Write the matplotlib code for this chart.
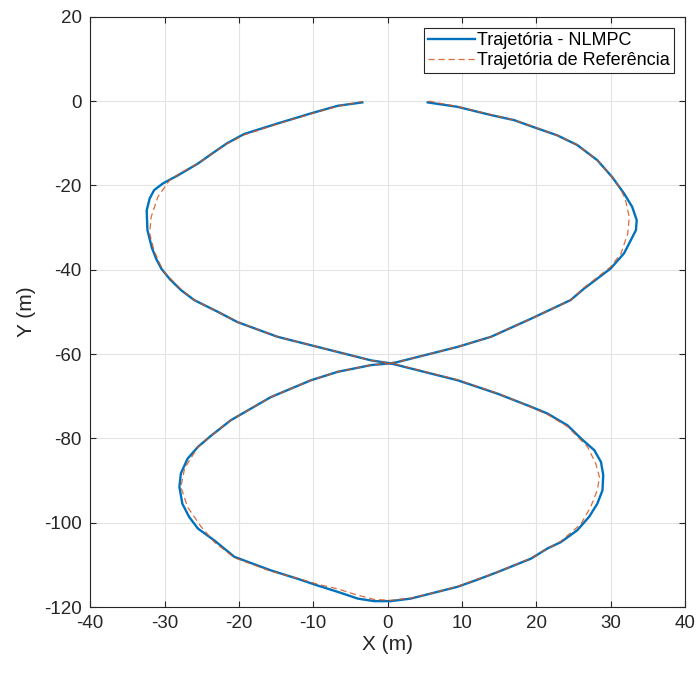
import numpy as np
import matplotlib.pyplot as plt

plt.rcParams["font.family"] = ["Liberation Sans", "DejaVu Sans"]
plt.rcParams["axes.unicode_minus"] = False

# NLMPC trajectory (x, y) in metres
nlmpc_xy = [
    (5.4, -0.3), (9.4, -1.35), (13.9, -3.3), (17.0, -4.5), (19.7, -6.2), (22.8, -8.1),
    (25.5, -10.4), (28.2, -14.0), (30.2, -18.0), (31.8, -21.9), (32.9, -25.1), (33.5, -28.2),
    (33.4, -30.6), (32.7, -33.0), (31.8, -36.1), (30.0, -39.7), (26.4, -44.5), (24.6, -47.2),
    (19.3, -51.6), (13.9, -55.9), (9.4, -58.3), (5.8, -59.9), (1.3, -61.9), (0.4, -62.2),
    (1.3, -62.6), (9.4, -66.2), (14.8, -69.4), (19.3, -72.5), (21.5, -74.1), (24.2, -76.9),
    (26.0, -80.0), (27.8, -82.8), (28.7, -85.6), (29.0, -88.7), (28.9, -92.3), (28.2, -95.5),
    (27.1, -98.6), (25.5, -101.8), (23.3, -104.6), (21.5, -106.1), (19.3, -108.5), (14.8, -111.7),
    (12.1, -113.5), (9.4, -115.2), (6.7, -116.4), (3.1, -118.0), (0.4, -118.6), (-1.8, -118.6),
    (-4.0, -118.0), (-6.7, -116.4), (-9.4, -114.9), (-12.1, -113.3), (-15.7, -111.3), (-20.6, -108.1),
    (-23.3, -104.2), (-25.5, -101.4), (-26.7, -98.6), (-27.6, -95.5), (-28.0, -91.5), (-27.8, -88.3),
    (-26.9, -84.8), (-25.5, -82.0), (-23.7, -79.3), (-21.1, -75.7), (-15.7, -70.2), (-10.3, -66.2),
    (-6.7, -64.2), (-2.2, -62.6), (0.4, -62.2),
    (-2.2, -61.5), (-6.7, -59.5), (-10.3, -57.9), (-14.8, -55.9), (-20.2, -52.4), (-22.8, -50.0),
    (-26.0, -47.2), (-27.8, -44.8), (-29.3, -42.2), (-30.4, -39.8), (-31.1, -37.5), (-31.7, -34.8),
    (-32.3, -30.6), (-32.4, -25.9), (-32.0, -23.1), (-31.4, -21.1), (-30.2, -19.5), (-28.2, -17.6),
    (-25.5, -14.8), (-23.5, -12.3), (-21.6, -10.0), (-19.3, -7.8), (-14.8, -5.3), (-10.3, -2.9),
    (-6.7, -1.1), (-3.4, -0.3),
]

# Reference trajectory (x, y) in metres
ref_xy = [
    (5.5, 0.0), (9.4, -1.3), (13.9, -3.2), (17.0, -4.5), (19.7, -6.1), (22.8, -8.1),
    (25.5, -10.4), (28.2, -14.0), (30.2, -18.0), (31.4, -21.0), (32.0, -23.5), (32.5, -27.5),
    (32.3, -31.4), (31.4, -36.1), (30.0, -39.3), (26.4, -44.3), (24.6, -47.2), (19.3, -51.6),
    (13.9, -55.9), (9.4, -58.3), (5.8, -59.9), (1.3, -61.9), (0.4, -62.2),
    (1.3, -62.5), (9.4, -66.1), (14.8, -69.3), (19.3, -72.6), (21.5, -74.3), (24.2, -77.2),
    (26.9, -82.0), (28.0, -86.0), (28.5, -89.2), (28.2, -92.3), (27.3, -96.3), (26.0, -100.3),
    (23.3, -104.4), (21.5, -106.1), (19.3, -108.4), (14.8, -111.7), (12.1, -113.4), (9.4, -115.1),
    (6.7, -116.4), (3.1, -117.9), (0.4, -118.4), (-1.8, -118.2), (-4.0, -117.2), (-6.7, -115.7),
    (-9.4, -114.6), (-12.1, -113.2), (-15.7, -111.5), (-20.6, -108.3), (-23.3, -104.6), (-25.1, -100.9),
    (-26.9, -96.3), (-27.8, -91.5), (-27.3, -87.1), (-25.5, -82.0), (-23.7, -79.3), (-21.1, -75.7),
    (-15.7, -70.2), (-10.3, -66.2), (-6.7, -64.2), (-2.2, -62.6), (0.4, -62.2),
    (-2.2, -61.5), (-6.7, -59.5), (-10.3, -57.9), (-14.8, -55.9), (-20.2, -52.4), (-22.8, -50.0),
    (-26.0, -47.2), (-27.8, -44.6), (-30.2, -40.3), (-31.4, -35.5), (-32.0, -31.4), (-31.8, -27.5),
    (-30.9, -22.7), (-29.3, -18.7), (-27.8, -17.0), (-25.5, -14.8), (-23.5, -12.4), (-21.6, -10.1),
    (-19.3, -8.0), (-14.8, -5.4), (-10.3, -3.0), (-6.7, -1.2), (-3.4, -0.1),
]

x_ticks = np.arange(-40, 41, 10)
y_ticks = np.arange(-120, 21, 20)

x_nlmpc, y_nlmpc = zip(*nlmpc_xy)
x_ref, y_ref = zip(*ref_xy)

fig = plt.figure(figsize=(6.99, 6.73), dpi=100)
ax = fig.add_axes([0.129, 0.098, 0.851, 0.877])

ax.plot(x_nlmpc, y_nlmpc, color="#0072BD", lw=1.7, solid_joinstyle="round",
        label="Trajetória - NLMPC")
ax.plot(x_ref, y_ref, color="#D95319", lw=0.9, ls=(0, (5, 3)), alpha=0.85,
        label="Trajetória de Referência")

ax.set_xlim(-40, 40)
ax.set_ylim(-120, 20)
ax.set_xticks(x_ticks)
ax.set_yticks(y_ticks)
ax.grid(True, color="#e3e3e3", lw=0.8)
ax.set_axisbelow(True)
ax.tick_params(direction="in", top=True, right=True, labelsize=13.5, colors="#262626", length=4)
ax.tick_params(axis="x", pad=6)
ax.tick_params(axis="y", pad=6)
for s in ax.spines.values():
    s.set_color("#262626")
    s.set_linewidth(0.8)
ax.set_xlabel("X (m)", fontsize=15, color="#262626", labelpad=2)
ax.set_ylabel("Y (m)", fontsize=15, color="#262626", labelpad=6)

leg = ax.legend(loc="upper right", fontsize=13, fancybox=False, framealpha=1,
                edgecolor="#262626", borderpad=0.25, labelspacing=0.15, handlelength=2.6,
                handletextpad=0.1, borderaxespad=0.6)
leg.get_frame().set_linewidth(0.8)

fig.savefig("out.png", dpi=100)
